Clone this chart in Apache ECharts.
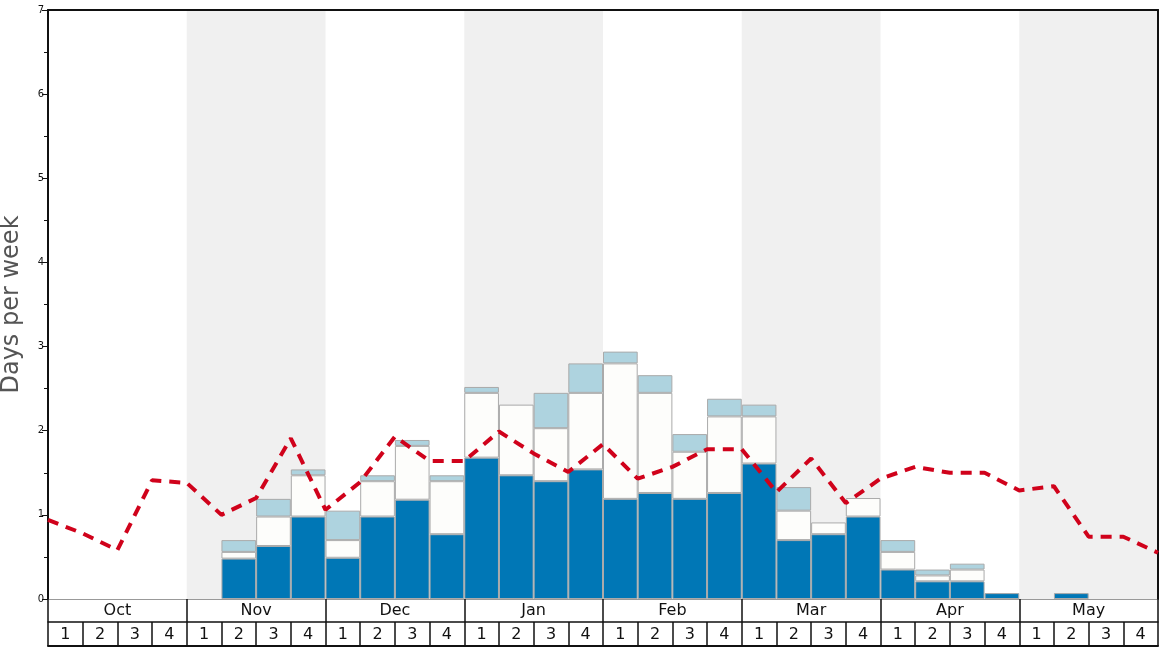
<!DOCTYPE html>
<html>
<head>
<meta charset="utf-8">
<script src="https://cdn.jsdelivr.net/npm/echarts@6/dist/echarts.min.js"></script>
<style>html,body{margin:0;padding:0;background:#fff}#c{width:1168px;height:648px}</style>
</head>
<body>
<div id="c"></div>
<script>
const months = ['Oct','Nov','Dec','Jan','Feb','Mar','Apr','May'];
const weekLabels = ['1','2','3','4'];
const yTicks = [0,1,2,3,4,5,6,7];
// stacked segment sizes per week (32 weeks, Oct wk1 .. May wk4)
const darkSeg = [0,0,0,0, 0,0.48,0.63,0.98, 0.49,0.98,1.18,0.77, 1.68,1.47,1.40,1.54, 1.19,1.26,1.19,1.26, 1.61,0.70,0.77,0.98, 0.35,0.21,0.21,0.07, 0,0.07,0,0];
const whiteSeg = [0,0,0,0, 0,0.08,0.35,0.49, 0.21,0.42,0.64,0.63, 0.77,0.84,0.63,0.91, 1.61,1.19,0.56,0.91, 0.56,0.35,0.14,0.22, 0.21,0.07,0.14,0, 0,0,0,0];
const lightSeg = [0,0,0,0, 0,0.14,0.21,0.07, 0.35,0.07,0.07,0.07, 0.07,0,0.42,0.35, 0.14,0.21,0.21,0.21, 0.14,0.28,0,0, 0.14,0.07,0.07,0, 0,0,0,0];
// dashed line values at week boundaries (33 points)
const lineVals = [0.94,0.78,0.58,1.41, 1.38,1.00,1.20,1.91, 1.06,1.39,1.93,1.64, 1.64,1.99,1.73,1.51, 1.84,1.43,1.57,1.78, 1.78,1.27,1.67,1.14, 1.43,1.57,1.50,1.50, 1.29,1.34,0.74,0.74, 0.55];

const weeks = [];
months.forEach(m => weekLabels.forEach(w => weeks.push(m + ' ' + w)));
const weekNums = [];
months.forEach(() => weekLabels.forEach(w => weekNums.push(w)));
const nz = a => a.map(v => v === 0 ? '-' : v);
const font = 'DejaVu Sans';

const chart = echarts.init(document.getElementById('c'), null, {renderer: 'canvas'});
chart.setOption({
  animation: false,
  grid: {left: 48, right: 10, top: 10, bottom: 49, show: false, containLabel: false, outerBoundsMode: 'none'},
  xAxis: [
    {type: 'category', data: weeks, show: false, boundaryGap: true},
    {type: 'value', min: 0, max: weeks.length, show: false},
    {type: 'category', data: months, position: 'bottom', offset: 0, boundaryGap: true,
     axisLine: {show: true, lineStyle: {color: '#999', width: 1}},
     axisTick: {show: true, interval: 0, length: 23, lineStyle: {color: '#111', width: 1.5}},
     axisLabel: {interval: 0, margin: 4, fontSize: 16, color: '#111', fontFamily: font},
     splitArea: {show: true, interval: 0, areaStyle: {color: ['rgba(255,255,255,0)', '#f0f0f0']}},
     splitLine: {show: false}},
    {type: 'category', data: weekNums, position: 'bottom', offset: 23, boundaryGap: true,
     axisLine: {show: true, lineStyle: {color: '#111', width: 1.5}},
     axisTick: {show: true, interval: 0, length: 24, lineStyle: {color: '#111', width: 1.5}},
     axisLabel: {interval: 0, margin: 5, fontSize: 16, color: '#111', fontFamily: font},
     splitLine: {show: false}},
    {type: 'category', data: [''], position: 'bottom', offset: 47,
     axisLine: {show: true, lineStyle: {color: '#111', width: 2}},
     axisTick: {show: false}, axisLabel: {show: false}},
    {type: 'category', data: [''], position: 'top', offset: 0,
     axisLine: {show: true, lineStyle: {color: '#111', width: 2}},
     axisTick: {show: false}, axisLabel: {show: false}}
  ],
  yAxis: [{
    type: 'value', min: yTicks[0], max: yTicks[yTicks.length - 1], interval: 1,
    name: 'Days per week', nameLocation: 'middle', nameGap: 24, nameRotate: 90,
    nameTextStyle: {fontSize: 24, color: '#555', fontFamily: font},
    axisLine: {show: true, lineStyle: {color: '#111', width: 2}},
    axisTick: {show: true, length: 6, lineStyle: {color: '#111', width: 1}},
    minorTick: {show: true, splitNumber: 2, length: 4, lineStyle: {color: '#111', width: 1}},
    axisLabel: {fontSize: 10, color: '#111', margin: 4, fontFamily: font},
    splitLine: {show: false}
  }, {
    type: 'value', min: yTicks[0], max: yTicks[yTicks.length - 1], position: 'right',
    axisLine: {show: true, lineStyle: {color: '#111', width: 2}},
    axisTick: {show: false}, axisLabel: {show: false}, splitLine: {show: false}
  }],
  series: [
    {type: 'bar', xAxisIndex: 0, stack: 's', data: nz(darkSeg), barWidth: '100%', barCategoryGap: 0,
     itemStyle: {color: '#0077b6', borderColor: '#aaaaaa', borderWidth: 1}},
    {type: 'bar', xAxisIndex: 0, stack: 's', data: nz(whiteSeg), barWidth: '100%',
     itemStyle: {color: '#fdfdfb', borderColor: '#aaaaaa', borderWidth: 1}},
    {type: 'bar', xAxisIndex: 0, stack: 's', data: nz(lightSeg), barWidth: '100%',
     itemStyle: {color: '#aed3df', borderColor: '#aaaaaa', borderWidth: 1}},
    {type: 'line', xAxisIndex: 1, data: lineVals.map((v, i) => [i, v]), symbol: 'none', z: 10,
     lineStyle: {color: '#d0021b', width: 4, type: [11, 8]}}
  ]
});
</script>
</body>
</html>
